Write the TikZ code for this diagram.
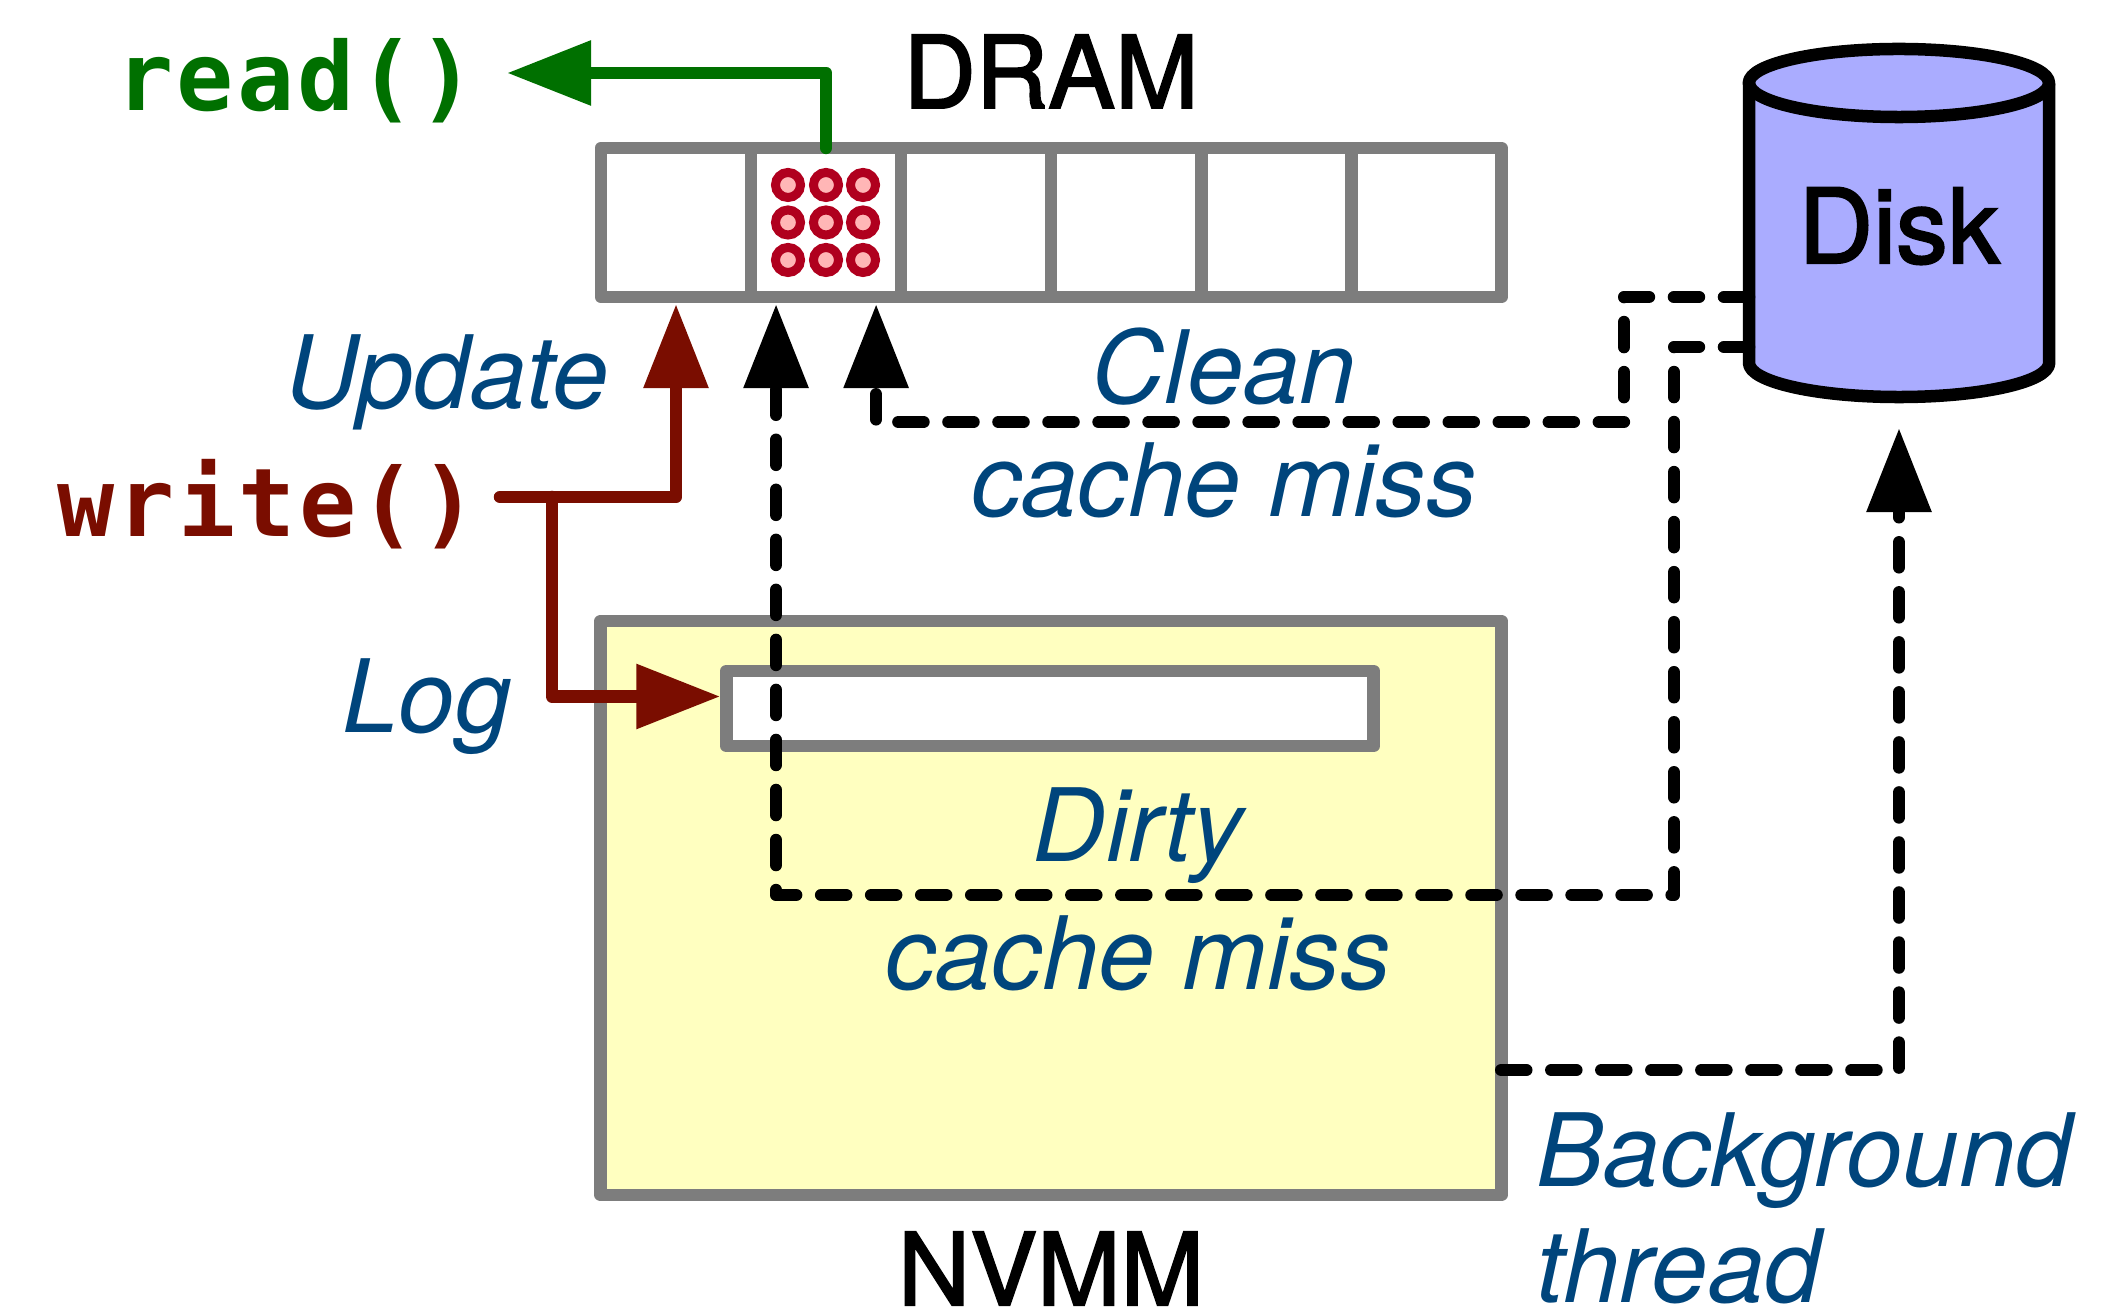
\documentclass[tikz,border=0pt]{standalone}
\usepackage{fontspec}
\setmainfont{TeX Gyre Heros}
\setmonofont{DejaVu Sans Mono}
\newfontface\titlefont{TeX Gyre Heros}[FakeBold=2]
\usetikzlibrary{shapes.geometric, arrows.meta, positioning}
\definecolor{cGrid}{RGB}{125, 125, 125}
\definecolor{cNvmm}{RGB}{255, 255, 192}
\definecolor{cDisk}{RGB}{170, 172, 255}
\definecolor{bDot}{RGB}{176, 0, 30}
\definecolor{cDot}{RGB}{255, 182, 182}
\definecolor{tRead}{RGB}{0, 112, 0}
\definecolor{tWrite}{RGB}{122, 13, 0}
\definecolor{tNote}{RGB}{0, 69, 124}

\begin{document}
\begin{tikzpicture}[
    x=0.01cm, y=-0.01cm,
    >={Triangle[length=0.84cm, width=0.62cm]},
    cell/.style={
        draw=cGrid,
        fill=white,
        line width=0.125cm,
        line join=round,
        outer sep=0pt,
        inner sep=0pt,
        minimum width=1.5cm,
        minimum height=1.49cm
    },
    region/.style={
        draw=cGrid,
        fill=#1,
        line width=0.125cm,
        line join=round,
        outer sep=0pt,
        inner sep=0pt
    },
    dot/.style={
        circle,
        draw=bDot,
        fill=cDot,
        line width=0.09cm,
        outer sep=0pt,
        inner sep=0pt,
        minimum size=0.25cm
    },
    title/.style={font=\fontsize{28.5}{32}\titlefont, text=black, anchor=base, inner sep=0pt},
    code/.style={font=\fontsize{27}{32}\selectfont\ttfamily\bfseries\addfontfeatures{LetterSpace=3.5},
        text=#1, anchor=base west},
    note/.style={font=\fontsize{28.8}{32.4}\selectfont\itshape, text=tNote, align=#1},
    solidline/.style={->, line width=0.125cm, line cap=round, line join=round, color=#1},
    missline/.style={->, black, line width=0.125cm, line cap=round, line join=round,
        dash pattern=on 0.25cm off 0.25cm}
]
\useasboundingbox (0,0) rectangle (2120,1313);

% DRAM row
\node[cell] (c1) at (676, 222.5) {};
\node[cell, right=0cm of c1] (c2) {};
\node[cell, right=0cm of c2] (c3) {};
\node[cell, right=0cm of c3] (c4) {};
\node[cell, right=0cm of c4] (c5) {};
\node[cell, right=0cm of c5] (c6) {};
\node[title] (dram) at (1051, 108) {DRAM};

% cache line contents
\node[dot] (d11) at (788, 185) {};
\node[dot] (d12) at (826, 185) {};
\node[dot] (d13) at (863, 185) {};
\node[dot] (d21) at (788, 222.5) {};
\node[dot] (d22) at (826, 222.5) {};
\node[dot] (d23) at (863, 222.5) {};
\node[dot] (d31) at (788, 260) {};
\node[dot] (d32) at (826, 260) {};
\node[dot] (d33) at (863, 260) {};

% NVMM
\node[region=cNvmm, minimum width=9cm, minimum height=5.74cm] (nvmm) at (1051, 908) {};
\node[region=white, minimum width=6.47cm, minimum height=0.75cm] (log) at (1050, 708.5) {};
\node[title] (nvmmlabel) at (1051, 1305) {NVMM};

% Disk
\draw[line width=0.125cm, line join=round, fill=cDisk] (1749, 83) -- (1749, 363)
    arc[start angle=180, end angle=360, x radius=1.5cm, y radius=0.34cm]
    -- (2049, 83)
    arc[start angle=0, end angle=180, x radius=1.5cm, y radius=0.34cm] -- cycle;
\draw[line width=0.125cm] (1749, 83)
    arc[start angle=180, end angle=360, x radius=1.5cm, y radius=0.34cm];
\node[title, font=\fontsize{29.4}{32}\titlefont] (disk) at (1899, 263) {Disk};
\coordinate (diskA) at (1749, 297);
\coordinate (diskB) at (1749, 347);
\coordinate (diskC) at (1899, 428);

% Calls
\node[code=tRead] (read) at (104, 111) {read()};
\node[code=tWrite] (write) at (45, 537) {write()};
\coordinate (readend) at (507, 73);
\coordinate (writeend) at (500, 497);
\coordinate (branch) at (552, 497);
\draw[solidline=tRead] (c2.north) |- (readend);
\draw[solidline=tWrite, shorten >=0.07cm] (writeend) -| (c1.south);
\draw[solidline=tWrite, shorten >=0.06cm] (branch) |- ([yshift=0.12cm]log.west);

% Misses
\node[note=center, anchor=base] (clean) at (1224, 517) {Clean\\cache miss};
\draw[missline, shorten >=0.07cm] (diskA) -- (1624, 297) -- (1624, 422) -| ([xshift=0.5cm]c2.south);
\draw[missline, shorten >=0.07cm] (diskB) -- (1674, 347) -- (1674, 895) -| ([xshift=-0.5cm]c2.south);
\draw[missline] ([yshift=-1.62cm]nvmm.east) -| (diskC);

% Labels
\node[note=left, anchor=base west] (update) at (273, 409) {Update};
\node[note=left, anchor=base west] (logname) at (330, 733) {Log};
\node[note=center, anchor=base] (dirty) at (1138, 990) {Dirty\\[0.15cm]cache miss};
\node[note=left, anchor=base west] (bg) at (1524, 1303) {Background\\[0.03cm]thread};
\end{tikzpicture}
\end{document}
